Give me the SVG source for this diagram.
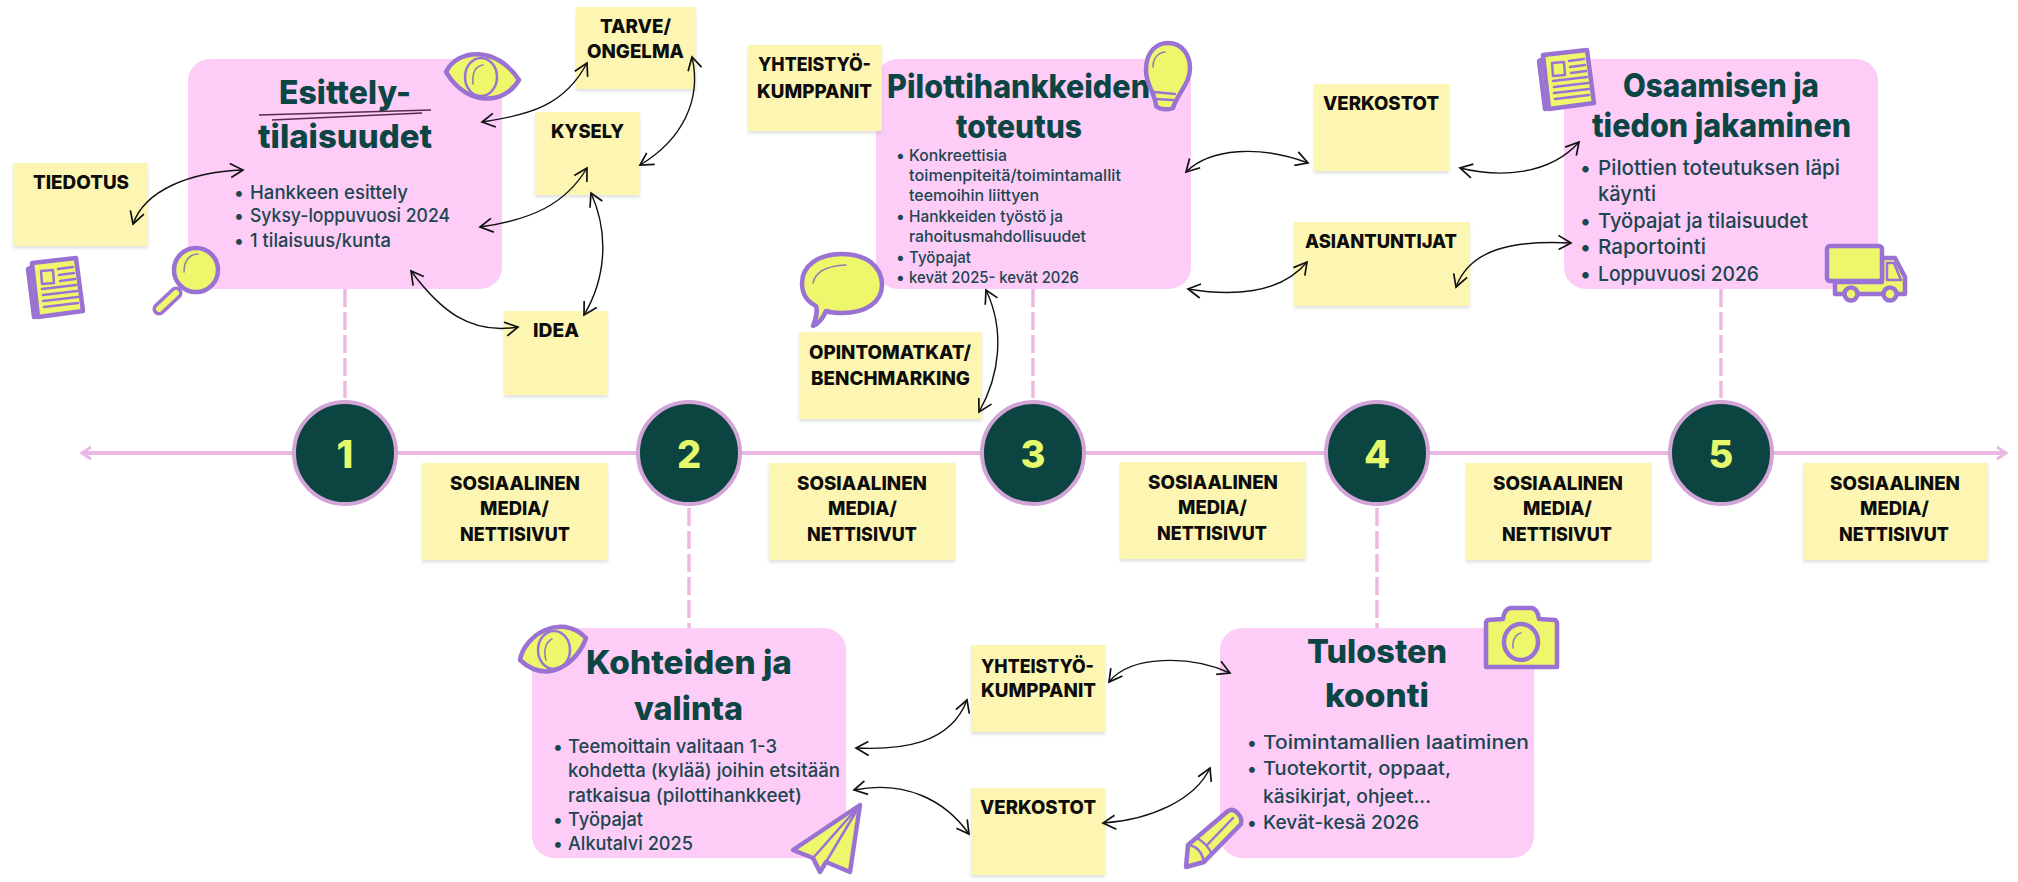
<svg xmlns="http://www.w3.org/2000/svg" width="2018" height="882" viewBox="0 0 2018 882">
<style>
text{font-family:Inter,"Liberation Sans",sans-serif}
.card{fill:#fdcdf8}
.st{fill:#fdf5b2;filter:url(#sh)}
.sl{font-size:19px;font-weight:800;fill:#0d0d0d}
.t{font-size:33px;font-weight:800;fill:#0b4644}
.b{font-size:18.5px;font-weight:500;fill:#1c4650}
.b3{font-size:16.5px;font-weight:500;fill:#1c4650}
.b5{font-size:20.5px;font-weight:500;fill:#1c4650}
.n{font-size:38px;font-weight:800;fill:#e6f96c;text-anchor:middle}
.dot{fill:#0b4441;stroke:#d3a4d8;stroke-width:4}
.dash{stroke:#ecb9de;stroke-width:3.5;stroke-dasharray:18 5;fill:none}
.conn{fill:none;stroke:#111;stroke-width:1.4;marker-start:url(#ah);marker-end:url(#ah)}
.ic{fill:#eef76c;stroke:#9a72d4;stroke-width:4.5;stroke-linejoin:round;stroke-linecap:round}
.il{fill:none;stroke:#9a72d4;stroke-width:2.5;stroke-linecap:round;stroke-linejoin:round}
.ih{fill:none;stroke:#8c7ab0;stroke-width:1.5;stroke-linecap:round}
</style>
<defs>
<filter id="sh" x="-5%" y="-5%" width="110%" height="112%"><feDropShadow dx="0" dy="2.5" stdDeviation="1.5" flood-color="#888" flood-opacity=".25"/></filter>
<marker id="ah" viewBox="-15 -10 18 20" refX="0" refY="0" markerWidth="18" markerHeight="20" markerUnits="userSpaceOnUse" orient="auto-start-reverse"><path d="M-13 -7 L0 0 L-12 7" fill="none" stroke="#111" stroke-width="1.7"/></marker>
<marker id="ap" viewBox="-12 -8 14 16" refX="0" refY="0" markerWidth="14" markerHeight="16" markerUnits="userSpaceOnUse" orient="auto-start-reverse"><path d="M-9 -6 L0 0 L-9 6" fill="none" stroke="#e9b6e6" stroke-width="3"/></marker>
<g id="news">
<path class="ic" d="M6 10 L2 12 L8 60 L14 59Z"/>
<path class="ic" d="M6 6 L50 1 L57 54 L12 60Z"/>
<path class="il" d="M15 14 L27 13 L28 26 L16 27Z"/>
<path class="il" d="M32 12 L47 10 M33 18 L48 16 M34 24 L49 22 M16 32 L50 28 M17 38 L51 34 M17 44 L52 40 M18 50 L52 46" stroke-width="1.8"/>
</g>
</defs>
<rect width="2018" height="882" fill="#fff"/>

<g id="timeline">
<path d="M82 453 H2006" fill="none" stroke="#e9b6e6" stroke-width="4" marker-start="url(#ap)" marker-end="url(#ap)"/>
<path class="dash" d="M345 289V398M689 508V628M1033 289V398M1377 508V628M1721 289V398"/>
</g>

<g id="step1"><rect class="card" x="188" y="59" width="314" height="230" rx="22"/>
<text class="t" x="279" y="104" textLength="132" lengthAdjust="spacingAndGlyphs">Esittely-</text>
<path d="M259 115 C 320 113,380 112,431 110M272 120 C 330 117,380 115,422 113" fill="none" stroke="#5a2a4e" stroke-width="1.4"/>
<text class="t" x="258" y="148" textLength="174" lengthAdjust="spacingAndGlyphs">tilaisuudet</text>
<text class="b" x="234" y="199">•</text><text class="b" x="250" y="199" textLength="158" lengthAdjust="spacingAndGlyphs">Hankkeen esittely</text>
<text class="b" x="234" y="222">•</text><text class="b" x="250" y="222" textLength="200" lengthAdjust="spacingAndGlyphs">Syksy-loppuvuosi 2024</text>
<text class="b" x="234" y="247">•</text><text class="b" x="250" y="247" textLength="141" lengthAdjust="spacingAndGlyphs">1 tilaisuus/kunta</text>
</g>
<g id="step3"><rect class="card" x="876" y="59" width="315" height="230" rx="22"/>
<text class="t" x="887" y="98" textLength="263" lengthAdjust="spacingAndGlyphs">Pilottihankkeiden</text>
<text class="t" x="956" y="138" textLength="126" lengthAdjust="spacingAndGlyphs">toteutus</text>
<text class="b3" x="896" y="161">•</text><text class="b3" x="909" y="161" textLength="98" lengthAdjust="spacingAndGlyphs">Konkreettisia</text>
<text class="b3" x="909" y="181" textLength="212" lengthAdjust="spacingAndGlyphs">toimenpiteitä/toimintamallit</text>
<text class="b3" x="909" y="201" textLength="130" lengthAdjust="spacingAndGlyphs">teemoihin liittyen</text>
<text class="b3" x="896" y="222">•</text><text class="b3" x="909" y="222" textLength="154" lengthAdjust="spacingAndGlyphs">Hankkeiden työstö ja</text>
<text class="b3" x="909" y="242" textLength="177" lengthAdjust="spacingAndGlyphs">rahoitusmahdollisuudet</text>
<text class="b3" x="896" y="263">•</text><text class="b3" x="909" y="263" textLength="62" lengthAdjust="spacingAndGlyphs">Työpajat</text>
<text class="b3" x="896" y="283">•</text><text class="b3" x="909" y="283" textLength="170" lengthAdjust="spacingAndGlyphs">kevät 2025- kevät 2026</text>
</g>
<g id="step5"><rect class="card" x="1564" y="59" width="314" height="230" rx="22"/>
<text class="t" x="1623" y="97" textLength="196" lengthAdjust="spacingAndGlyphs">Osaamisen ja</text>
<text class="t" x="1592" y="137" textLength="259" lengthAdjust="spacingAndGlyphs">tiedon jakaminen</text>
<text class="b5" x="1580" y="175">•</text><text class="b5" x="1598" y="175" textLength="242" lengthAdjust="spacingAndGlyphs">Pilottien toteutuksen läpi</text>
<text class="b5" x="1598" y="201" textLength="58" lengthAdjust="spacingAndGlyphs">käynti</text>
<text class="b5" x="1580" y="228">•</text><text class="b5" x="1598" y="228" textLength="210" lengthAdjust="spacingAndGlyphs">Työpajat ja tilaisuudet</text>
<text class="b5" x="1580" y="254">•</text><text class="b5" x="1598" y="254" textLength="108" lengthAdjust="spacingAndGlyphs">Raportointi</text>
<text class="b5" x="1580" y="281">•</text><text class="b5" x="1598" y="281" textLength="161" lengthAdjust="spacingAndGlyphs">Loppuvuosi 2026</text>
</g>
<g id="step2"><rect class="card" x="532" y="628" width="314" height="230" rx="22"/>
<text class="t" x="586" y="674" textLength="206" lengthAdjust="spacingAndGlyphs">Kohteiden ja</text>
<text class="t" x="634" y="720" textLength="109" lengthAdjust="spacingAndGlyphs">valinta</text>
<text class="b" x="553" y="753">•</text><text class="b" x="568" y="753" textLength="209" lengthAdjust="spacingAndGlyphs">Teemoittain valitaan 1-3</text>
<text class="b" x="568" y="777" textLength="272" lengthAdjust="spacingAndGlyphs">kohdetta (kylää) joihin etsitään</text>
<text class="b" x="568" y="802" textLength="234" lengthAdjust="spacingAndGlyphs">ratkaisua (pilottihankkeet)</text>
<text class="b" x="553" y="826">•</text><text class="b" x="568" y="826" textLength="75" lengthAdjust="spacingAndGlyphs">Työpajat</text>
<text class="b" x="553" y="850">•</text><text class="b" x="568" y="850" textLength="125" lengthAdjust="spacingAndGlyphs">Alkutalvi 2025</text>
</g>
<g id="step4"><rect class="card" x="1220" y="628" width="314" height="230" rx="22"/>
<text class="t" x="1307" y="663" textLength="140" lengthAdjust="spacingAndGlyphs">Tulosten</text>
<text class="t" x="1325" y="707" textLength="104" lengthAdjust="spacingAndGlyphs">koonti</text>
<text class="b" x="1247" y="749">•</text><text class="b" x="1263" y="749" textLength="266" lengthAdjust="spacingAndGlyphs">Toimintamallien laatiminen</text>
<text class="b" x="1247" y="775">•</text><text class="b" x="1263" y="775" textLength="188" lengthAdjust="spacingAndGlyphs">Tuotekortit, oppaat,</text>
<text class="b" x="1263" y="803" textLength="168" lengthAdjust="spacingAndGlyphs">käsikirjat, ohjeet...</text>
<text class="b" x="1247" y="829">•</text><text class="b" x="1263" y="829" textLength="156" lengthAdjust="spacingAndGlyphs">Kevät-kesä 2026</text>
</g>

<g id="num1"><circle class="dot" cx="345" cy="453" r="51"/><text class="n" x="345" y="468">1</text></g>
<g id="num2"><circle class="dot" cx="689" cy="453" r="51"/><text class="n" x="689" y="468">2</text></g>
<g id="num3"><circle class="dot" cx="1033" cy="453" r="51"/><text class="n" x="1033" y="468">3</text></g>
<g id="num4"><circle class="dot" cx="1377" cy="453" r="51"/><text class="n" x="1377" y="468">4</text></g>
<g id="num5"><circle class="dot" cx="1721" cy="453" r="51"/><text class="n" x="1721" y="468">5</text></g>

<g id="tiedotus"><rect class="st" x="13" y="163" width="135" height="83"/><text class="sl" x="33" y="189" textLength="96" lengthAdjust="spacingAndGlyphs">TIEDOTUS</text></g>
<g id="tarve"><rect class="st" x="576" y="7" width="120" height="82"/><text class="sl" x="600" y="33" textLength="71" lengthAdjust="spacingAndGlyphs">TARVE/</text><text class="sl" x="587" y="58" textLength="97" lengthAdjust="spacingAndGlyphs">ONGELMA</text></g>
<g id="kysely"><rect class="st" x="535" y="112" width="105" height="83"/><text class="sl" x="551" y="138" textLength="73" lengthAdjust="spacingAndGlyphs">KYSELY</text></g>
<g id="idea"><rect class="st" x="504" y="311" width="104" height="84"/><text class="sl" x="533" y="337" textLength="46" lengthAdjust="spacingAndGlyphs">IDEA</text></g>
<g id="yhteistyo1"><rect class="st" x="748" y="45" width="134" height="86"/><text class="sl" x="758" y="71" textLength="113" lengthAdjust="spacingAndGlyphs">YHTEISTYÖ-</text><text class="sl" x="757" y="98" textLength="115" lengthAdjust="spacingAndGlyphs">KUMPPANIT</text></g>
<g id="opintomatkat"><rect class="st" x="799" y="332" width="183" height="87"/><text class="sl" x="809" y="359" textLength="162" lengthAdjust="spacingAndGlyphs">OPINTOMATKAT/</text><text class="sl" x="811" y="385" textLength="159" lengthAdjust="spacingAndGlyphs">BENCHMARKING</text></g>
<g id="verkostot1"><rect class="st" x="1314" y="84" width="135" height="87"/><text class="sl" x="1323" y="110" textLength="116" lengthAdjust="spacingAndGlyphs">VERKOSTOT</text></g>
<g id="asiantuntijat"><rect class="st" x="1294" y="222" width="176" height="84"/><text class="sl" x="1305" y="248" textLength="152" lengthAdjust="spacingAndGlyphs">ASIANTUNTIJAT</text></g>
<g id="yhteistyo2"><rect class="st" x="971" y="645" width="134" height="87"/><text class="sl" x="981" y="673" textLength="113" lengthAdjust="spacingAndGlyphs">YHTEISTYÖ-</text><text class="sl" x="981" y="697" textLength="115" lengthAdjust="spacingAndGlyphs">KUMPPANIT</text></g>
<g id="verkostot2"><rect class="st" x="971" y="788" width="134" height="87"/><text class="sl" x="980" y="814" textLength="116" lengthAdjust="spacingAndGlyphs">VERKOSTOT</text></g>

<g id="some1"><rect class="st" x="422" y="463" width="186" height="97"/><text class="sl" x="450" y="490" textLength="130" lengthAdjust="spacingAndGlyphs">SOSIAALINEN</text><text class="sl" x="480" y="515" textLength="69" lengthAdjust="spacingAndGlyphs">MEDIA/</text><text class="sl" x="460" y="541" textLength="110" lengthAdjust="spacingAndGlyphs">NETTISIVUT</text></g>
<g id="some2"><rect class="st" x="769" y="463" width="186" height="97"/><text class="sl" x="797" y="490" textLength="130" lengthAdjust="spacingAndGlyphs">SOSIAALINEN</text><text class="sl" x="828" y="515" textLength="69" lengthAdjust="spacingAndGlyphs">MEDIA/</text><text class="sl" x="807" y="541" textLength="110" lengthAdjust="spacingAndGlyphs">NETTISIVUT</text></g>
<g id="some3"><rect class="st" x="1120" y="462" width="186" height="97"/><text class="sl" x="1148" y="489" textLength="130" lengthAdjust="spacingAndGlyphs">SOSIAALINEN</text><text class="sl" x="1178" y="514" textLength="69" lengthAdjust="spacingAndGlyphs">MEDIA/</text><text class="sl" x="1157" y="540" textLength="110" lengthAdjust="spacingAndGlyphs">NETTISIVUT</text></g>
<g id="some4"><rect class="st" x="1466" y="463" width="185" height="97"/><text class="sl" x="1493" y="490" textLength="130" lengthAdjust="spacingAndGlyphs">SOSIAALINEN</text><text class="sl" x="1523" y="515" textLength="69" lengthAdjust="spacingAndGlyphs">MEDIA/</text><text class="sl" x="1502" y="541" textLength="110" lengthAdjust="spacingAndGlyphs">NETTISIVUT</text></g>
<g id="some5"><rect class="st" x="1803" y="463" width="185" height="97"/><text class="sl" x="1830" y="490" textLength="130" lengthAdjust="spacingAndGlyphs">SOSIAALINEN</text><text class="sl" x="1860" y="515" textLength="69" lengthAdjust="spacingAndGlyphs">MEDIA/</text><text class="sl" x="1839" y="541" textLength="110" lengthAdjust="spacingAndGlyphs">NETTISIVUT</text></g>

<g id="icon-eye1"><path class="ic" d="M446 72 C 458 48,497 46,519 80 C 505 104,468 108,446 72Z"/><ellipse cx="481" cy="77" rx="16" ry="19" fill="none" stroke="#9a72d4" stroke-width="2.5"/><path class="ih" d="M473 84 C 472 72,476 66,483 65"/></g>
<g id="icon-magnifier"><path d="M176 293 L159 309" stroke="#9a72d4" stroke-width="13" stroke-linecap="round"/><path d="M176 293 L159 309" stroke="#eef76c" stroke-width="6" stroke-linecap="round"/><ellipse class="ic" cx="196" cy="270" rx="22" ry="22" stroke-width="6"/><path class="ih" d="M184 272 C 184 260,190 254,198 254"/></g>
<use id="icon-news1" href="#news" transform="translate(26 257)"/>
<use id="icon-news2" href="#news" transform="translate(1537 49)"/>
<g id="icon-bulb"><path class="ic" d="M1146 70 C 1146 50,1158 43,1168 43 C 1182 43,1190 55,1190 68 C 1190 84,1178 92,1173 108 C 1170 110,1160 110,1156 106 C 1155 92,1146 86,1146 70Z"/><path class="il" d="M1154 92 L1175 94 M1155 99 L1173 100"/><path class="ih" d="M1153 67 C 1153 58,1158 53,1165 52"/></g>
<g id="icon-bubble"><path class="ic" stroke-width="6" d="M842 254 C 866 254,882 266,882 285 C 882 302,866 313,842 313 C 836 313,829 312,826 311 C 823 318,818 324,813 326 C 816 318,818 312,816 306 C 806 301,802 292,802 283 C 802 266,818 254,842 254Z"/><path class="ih" d="M813 283 C 815 273,824 266,846 265" stroke-width="2"/></g>
<g id="icon-truck"><path class="ic" d="M1882 258 H1895 L1905 277 V294 H1835 V282 H1882Z"/><path class="il" d="M1887 263 H1894 L1901 280 H1887Z"/><circle class="ic" cx="1851" cy="294" r="6.5" stroke-width="3.5"/><circle class="ic" cx="1890" cy="294" r="6.5" stroke-width="3.5"/><rect class="ic" x="1827" y="246" width="55" height="35" rx="3"/></g>
<g id="icon-eye2"><path class="ic" d="M520 660 C 524 636,560 612,586 638 C 578 662,548 686,520 660Z"/><ellipse cx="554" cy="650" rx="16" ry="19" fill="none" stroke="#9a72d4" stroke-width="2.5"/><path class="ih" d="M546 660 C 543 650,546 642,552 639"/></g>
<g id="icon-plane"><path class="ic" d="M860 805 L793 850 L813 858 L820 872 L826 862 L850 872Z"/><path class="il" d="M860 805 L813 858 M860 805 L826 862"/></g>
<g id="icon-camera"><path class="ic" d="M1488 620 L1503 619 C 1504 612,1506 609,1510 608 H1532 C 1536 609,1538 612,1539 619 L1555 620 C 1556 620,1557 622,1557 624 V667 H1486 V623 C 1486 622,1487 620,1488 620Z"/><ellipse class="ic" cx="1521" cy="642" rx="17" ry="18"/><path class="ih" d="M1513 648 C 1512 640,1516 634,1521 633"/></g>
<g id="icon-pencil"><path class="ic" d="M1188 845 L1228 811 C 1234 807,1243 816,1241 824 L1204 862 L1186 867Z"/><path class="il" d="M1188 845 C 1196 846,1202 852,1204 862 M1197 838 C 1204 842,1209 848,1212 854 M1207 845 L1233 818"/></g>

<g id="connectors">
<path class="conn" d="M482 122 C 530 115,565 105,587 63"/>
<path class="conn" d="M692 57 C 702 100,682 140,640 165"/>
<path class="conn" d="M587 168 C 565 205,530 220,480 227"/>
<path class="conn" d="M591 193 C 610 235,605 280,584 315"/>
<path class="conn" d="M411 271 C 440 310,470 335,518 327"/>
<path class="conn" d="M133 224 C 145 190,190 172,243 170"/>
<path class="conn" d="M1186 172 C 1210 148,1260 145,1308 163"/>
<path class="conn" d="M1188 289 C 1230 296,1280 295,1307 262"/>
<path class="conn" d="M986 290 C 1005 330,1000 375,979 412"/>
<path class="conn" d="M1460 168 C 1500 178,1550 175,1579 142"/>
<path class="conn" d="M1456 287 C 1470 250,1510 240,1571 243"/>
<path class="conn" d="M856 748 C 900 750,950 745,967 700"/>
<path class="conn" d="M854 790 C 905 780,945 800,969 834"/>
<path class="conn" d="M1109 682 C 1130 655,1190 655,1230 673"/>
<path class="conn" d="M1103 823 C 1150 820,1195 800,1210 768"/>
</g>
</svg>
